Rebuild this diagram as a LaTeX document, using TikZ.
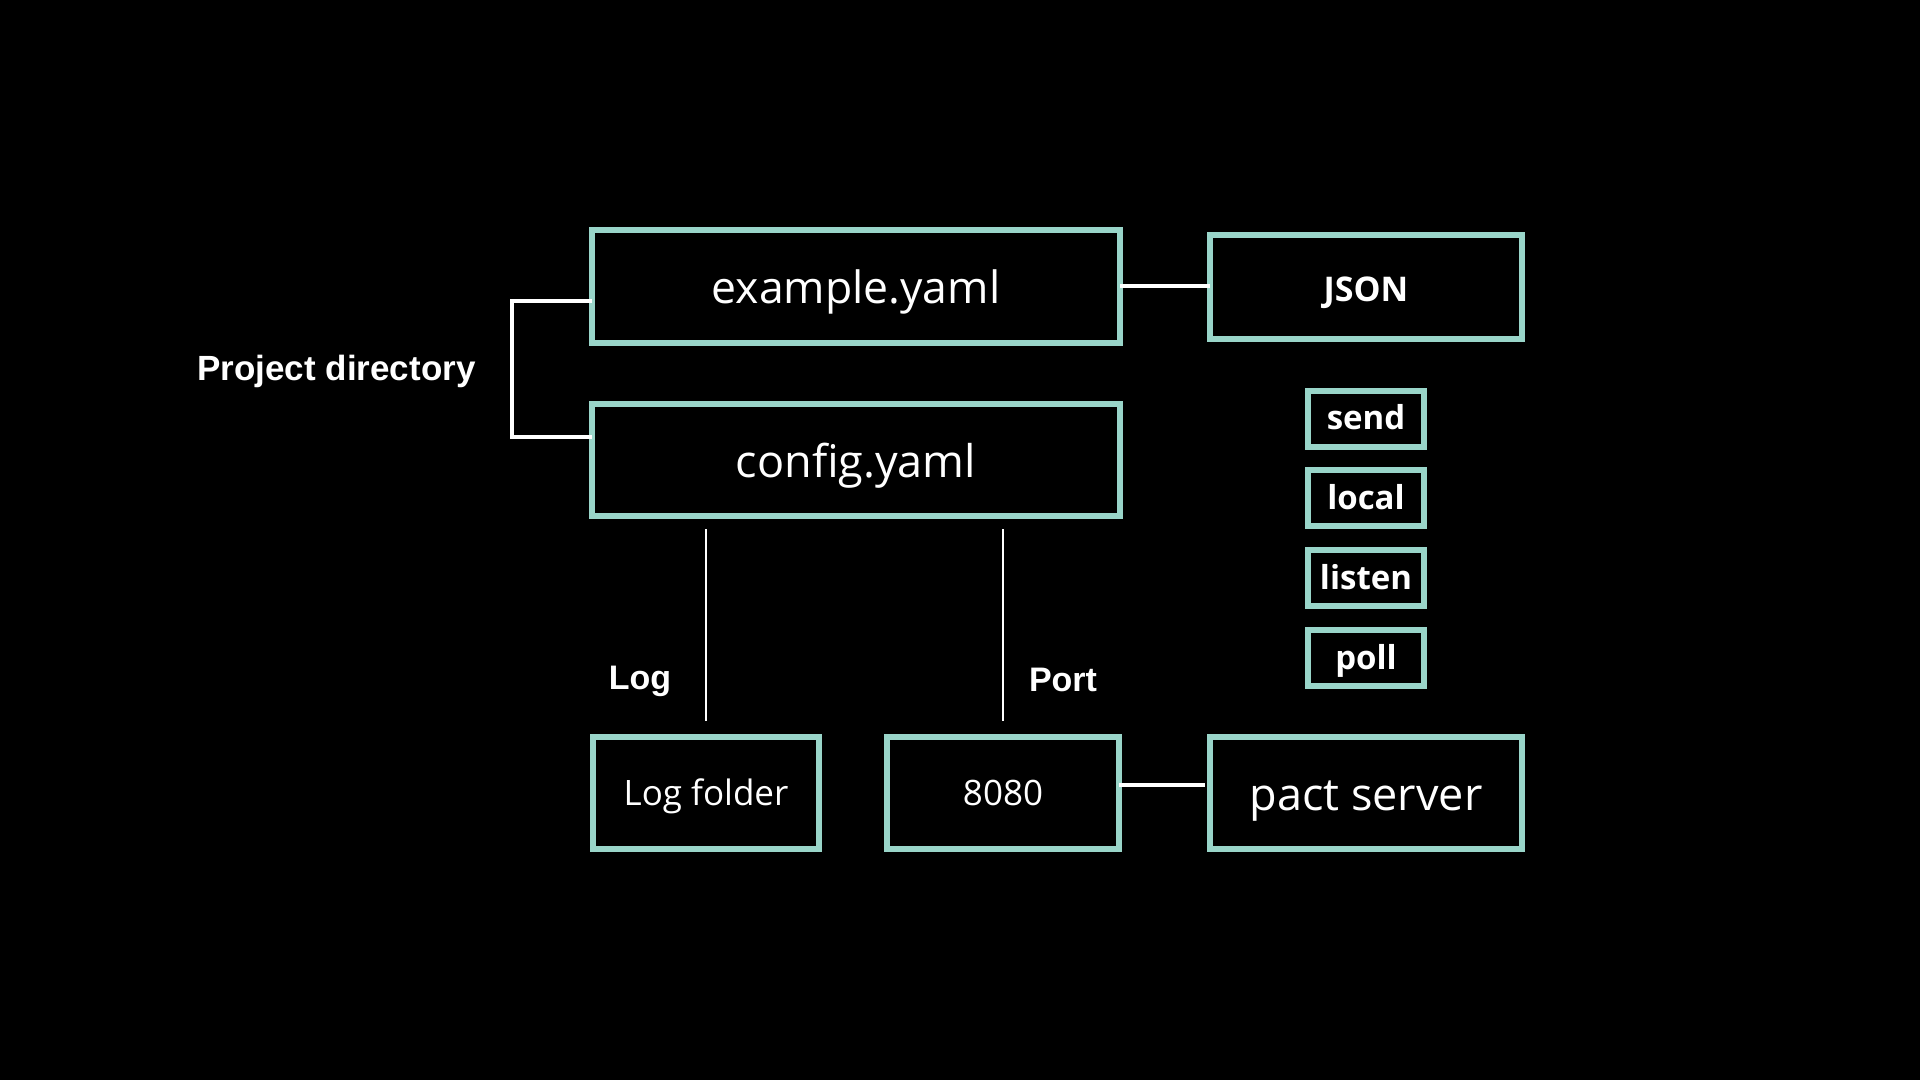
\documentclass[tikz,border=0pt]{standalone}
\usepackage{fontspec}
\setmainfont{Open Sans}
\newfontfamily\labelfont{Liberation Sans}
\definecolor{mint}{HTML}{99D5C9}
\begin{document}
\begin{tikzpicture}[x=1pt, y=-1pt,
  box/.style={draw=mint, line width=6pt, fill=black, text=white, inner sep=0pt, outer sep=0pt, text depth=0pt},
  tag/.style={box, minimum width=116, minimum height=56, text height=22.5pt, font=\fontsize{33}{40}\selectfont\bfseries},
  link/.style={draw=white, line width=4pt},
  thinlink/.style={draw=white, line width=2pt},
  caption/.style={text=white, font=\labelfont\fontsize{34}{40}\selectfont\bfseries}]

  % Background
  \fill[black] (0,0) rectangle (1920,1080);

  % Project files
  \node[box, minimum width=528, minimum height=113, text height=35pt, font=\fontsize{44.5}{54}\selectfont] (example) at (856,286) {example.yaml};
  \node[box, minimum width=528, minimum height=112, text height=34pt, font=\fontsize{45}{54}\selectfont] (config) at (856,460) {config.yaml};

  % Output format
  \node[box, minimum width=312, minimum height=104, text height=29pt, font=\fontsize{34}{40}\selectfont\bfseries] (json) at (1366,286.5) {JSON};

  % Commands
  \node[tag] (send) at (1366,418.5) {send};
  \node[tag] (local) at (1366,498) {local};
  \node[tag] (listen) at (1366,578) {listen};
  \node[tag] (poll) at (1366,658) {poll};

  % Bottom row
  \node[box, minimum width=226, minimum height=112, text height=25.5pt, font=\fontsize{35}{42}\selectfont] (logf) at (706,792.5) {Log folder};
  \node[box, minimum width=232, minimum height=112, text height=25pt, font=\fontsize{35}{42}\selectfont] (port) at (1003,792.5) {8080};
  \node[box, minimum width=312, minimum height=112, text height=35pt, font=\fontsize{45}{54}\selectfont] (pact) at (1366,792.5) {pact server};

  % Labels
  \node[caption, font=\labelfont\fontsize{35}{42}\selectfont\bfseries] (projdir) at (336.5,371) {Project directory};
  \node[caption] (loglbl) at (640,681) {Log};
  \node[caption] (portlbl) at (1063,680) {Port};

  % Bracket round the project files
  \draw[link] ([yshift=-15pt]example.west) -- ++(-80,0) |- ([yshift=23pt]config.west);

  % Horizontal links
  \draw[link] (example.east) -- (example.east -| json.west);
  \draw[link] ([yshift=8pt]port.east) -- ([xshift=-5pt,yshift=8pt]pact.west);

  % Vertical links from config
  \draw[thinlink, shorten <=13pt, shorten >=16pt] (logf.north |- config.south) -- (logf.north);
  \draw[thinlink, shorten <=13pt, shorten >=16pt] (port.north |- config.south) -- (port.north);

\end{tikzpicture}
\end{document}
